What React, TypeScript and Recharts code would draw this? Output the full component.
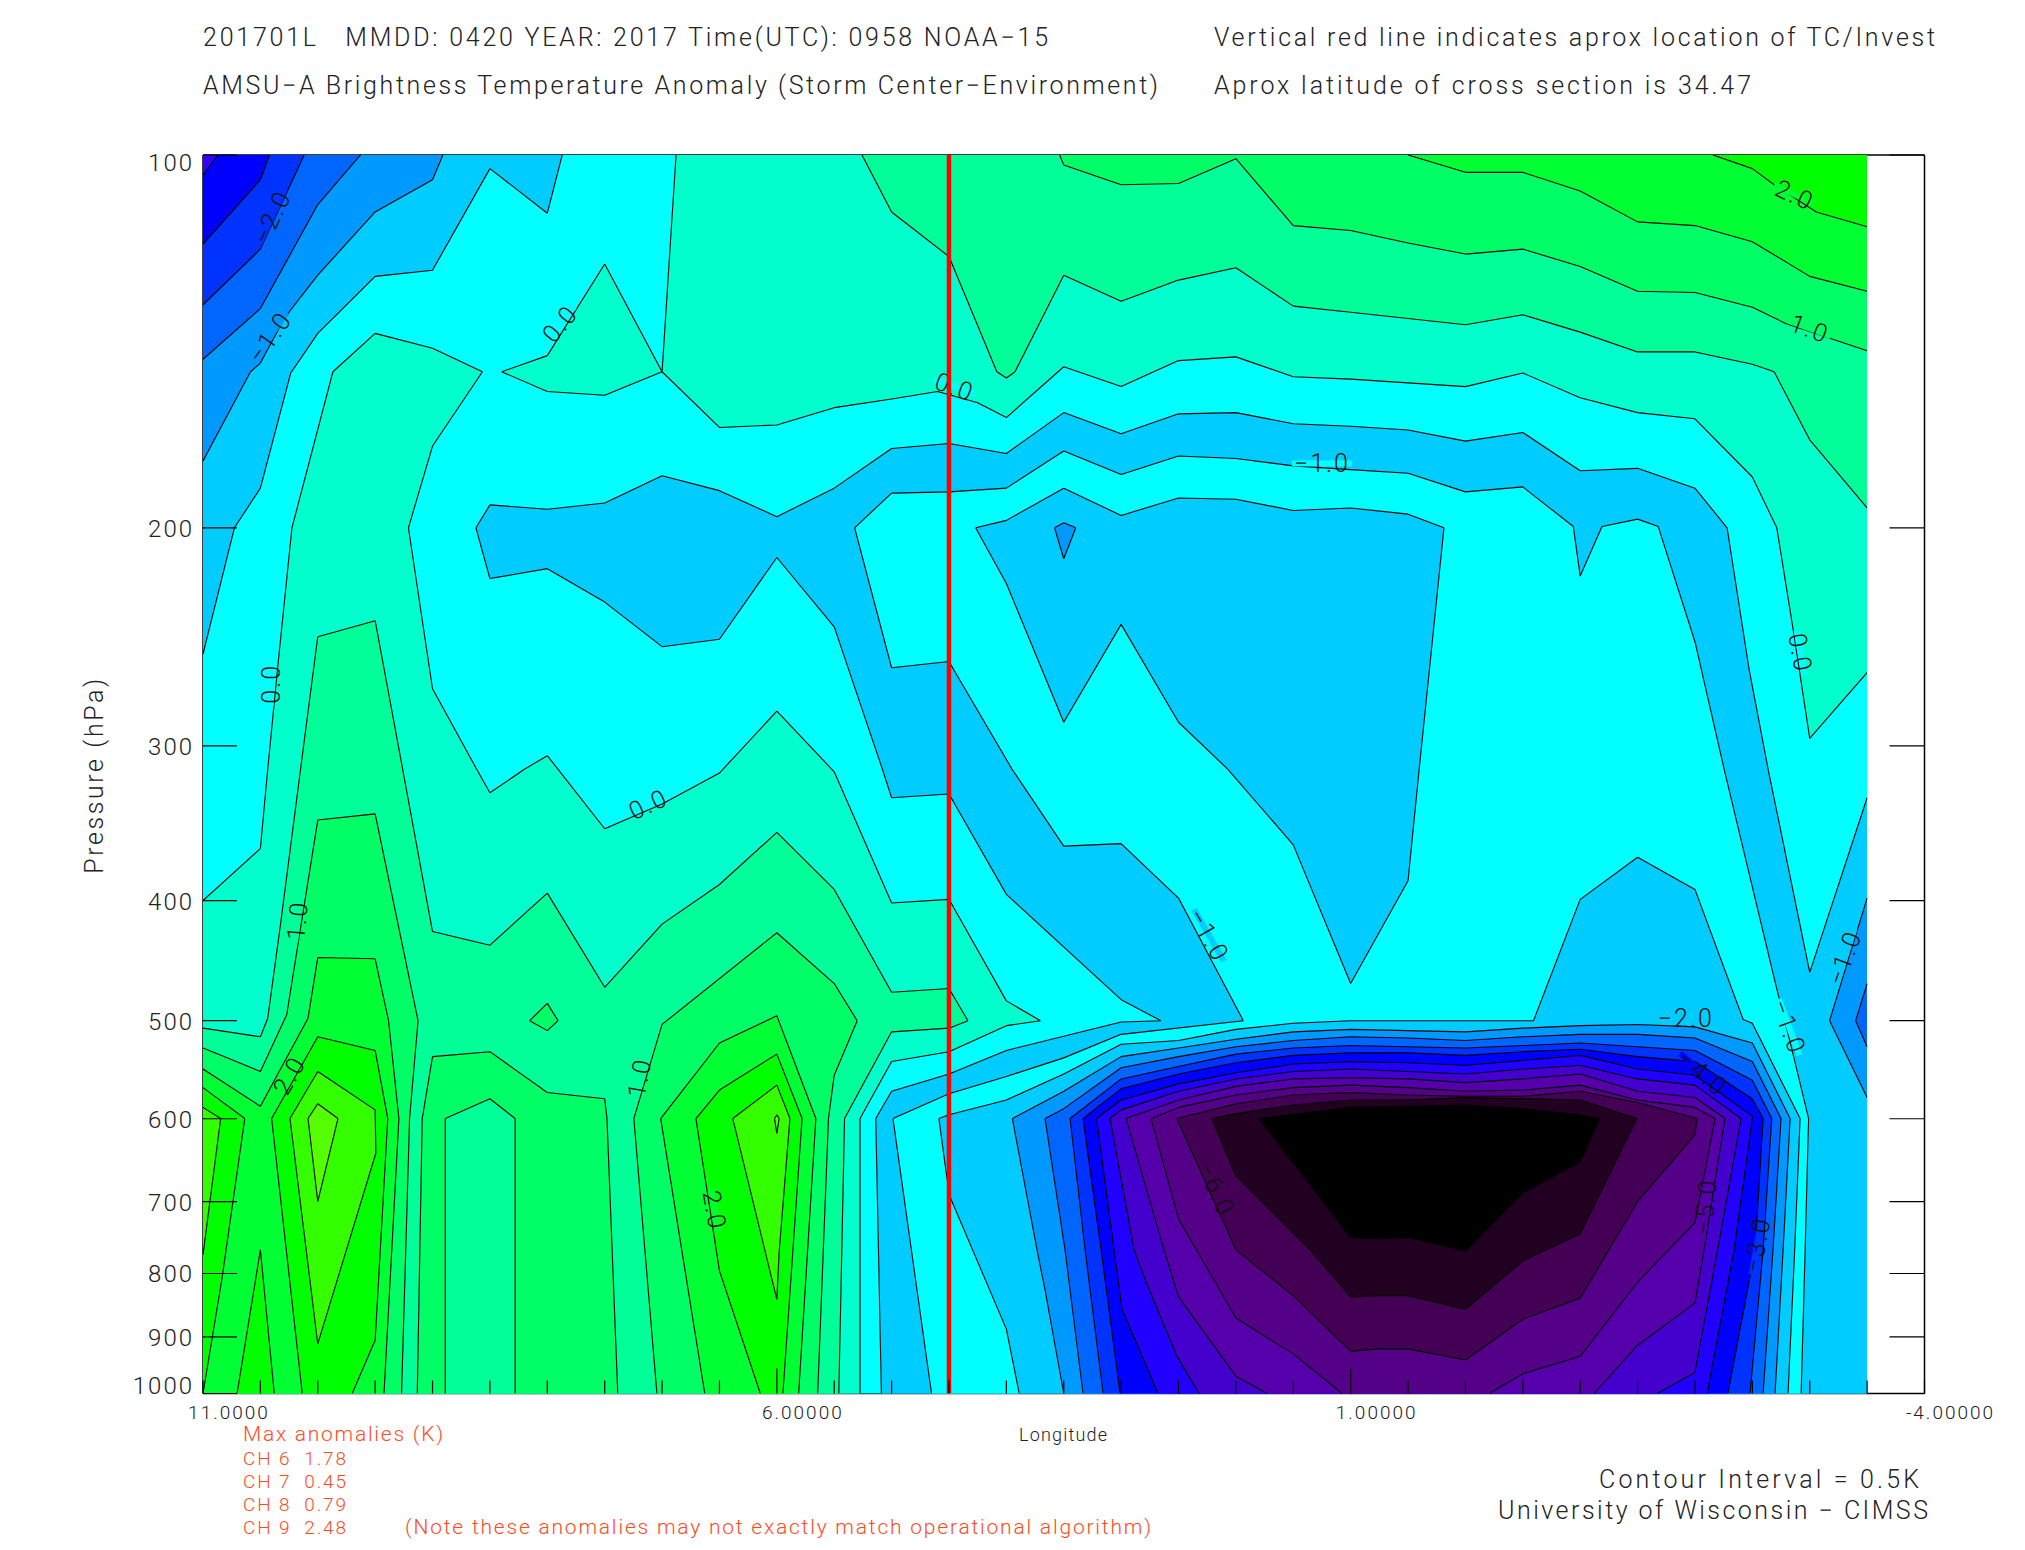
import { ScatterChart, Scatter, XAxis, YAxis } from "recharts";

type Vertex = [number, number];

// every vertex is [longitude, log10(pressure in hPa)]
const domainArea: Vertex[] = [[11, 2], [-3.5, 2], [-3.5, 3], [11, 3]];

const nwBlue1: Vertex[] = [[11, 2], [7.87, 2], [8, 2.047], [8.5, 2.011], [9, 2.093], [9.5, 2.098], [10, 2.144], [10.235, 2.176], [10.5, 2.269], [10.726, 2.301], [11, 2.403]];
const nwBlue2: Vertex[] = [[11, 2], [8.91, 2], [9, 2.02], [9.5, 2.046], [10, 2.097], [10.285, 2.131], [10.5, 2.168], [10.586, 2.175], [11, 2.247]];
const nwBlue3: Vertex[] = [[11, 2], [9.627, 2], [10, 2.04], [10.5, 2.124], [11, 2.165]];
const nwBlue4: Vertex[] = [[11, 2], [10.118, 2], [10.5, 2.076], [11, 2.121]];
const nwBlue5: Vertex[] = [[11, 2], [10.42, 2], [10.5, 2.02], [11, 2.072]];
const nwBlue6: Vertex[] = [[11, 2], [10.87, 2], [11, 2.016]];

const midTrough: Vertex[] = [[8.622, 2.301], [8.5, 2.2825], [8, 2.286], [7.5, 2.281], [7, 2.259], [6.5, 2.271], [6, 2.292], [5.5, 2.269], [5, 2.237], [4.5, 2.233], [4, 2.241], [3.5, 2.208], [3, 2.225], [2.5, 2.209], [2, 2.208], [1.5, 2.217], [1, 2.219], [0.5, 2.222], [0, 2.231], [-0.5, 2.224], [-1, 2.255], [-1.5, 2.253], [-2, 2.269], [-2.28, 2.301], [-2.473, 2.416], [-2.64, 2.497], [-3, 2.66], [-3.5, 2.519], [-3.5, 3], [5.089, 3], [5.138, 2.778], [5, 2.756], [4.5, 2.742], [4, 2.723], [3, 2.7], [2.654, 2.699], [3, 2.682], [4, 2.597], [4.5, 2.516], [5, 2.519], [5.08, 2.496], [5.5, 2.381], [6, 2.325], [6.5, 2.391], [7, 2.397], [7.5, 2.361], [8, 2.334], [8.5, 2.342]];
const cyanIsland: Vertex[] = [[5.322, 2.301], [5, 2.273], [4.5, 2.272], [4, 2.269], [3.5, 2.239], [3, 2.258], [2.5, 2.243], [2, 2.245], [1.5, 2.251], [1, 2.254], [0.5, 2.257], [0, 2.272], [-0.5, 2.268], [-0.94, 2.3], [-1, 2.34], [-1.19, 2.3], [-1.5, 2.294], [-1.68, 2.3], [-2, 2.393], [-2.257, 2.497], [-2.707, 2.671], [-2.86, 2.728], [-2.99, 2.778], [-2.96, 2.884], [-2.925, 3], [-2.811, 3], [-2.869, 2.884], [-2.916, 2.778], [-2.5, 2.701], [-2.42, 2.698], [-2, 2.593], [-1.5, 2.567], [-1, 2.601], [-0.593, 2.699], [1, 2.699], [1.5, 2.701], [2, 2.706], [2.5, 2.715], [3, 2.718], [3.5, 2.742], [4, 2.763], [4.5, 2.775], [4.588, 2.778], [4.521, 2.824], [4.488, 2.842], [4, 2.948], [3.888, 3], [4.652, 3], [4.988, 2.778], [4.5, 2.758], [4, 2.744], [3.5, 2.729], [3, 2.71], [1.935, 2.699], [2.5, 2.6], [3, 2.556], [3.5, 2.558], [3.95, 2.496], [4.5, 2.409], [5, 2.414]];
const innerTrough: Vertex[] = [[4.268, 2.301], [4, 2.295], [3.5, 2.269], [3, 2.291], [2.5, 2.277], [2, 2.278], [1.5, 2.287], [1, 2.285], [0.5, 2.29], [0.187, 2.301], [0.403, 2.496], [0.5, 2.586], [1, 2.669], [1.5, 2.557], [2.07, 2.496], [2.5, 2.458], [3, 2.379], [3.5, 2.458], [4, 2.346]];
const smallCold: Vertex[] = [[3.58, 2.301], [3.5, 2.297], [3.395, 2.301], [3.5, 2.326]];
const eastCold1: Vertex[] = [[-3.5, 2.6], [-3.173, 2.699], [-3.5, 2.761]];
const eastCold2: Vertex[] = [[-3.5, 2.669], [-3.4, 2.699], [-3.5, 2.72]];

const zeroLower: Vertex[] = [[11, 2.602], [10.5, 2.56], [10.436, 2.496], [10.345, 2.41], [10.225, 2.301], [9.868, 2.175], [9.5, 2.144], [9, 2.156], [8.565, 2.175], [9, 2.235], [9.21, 2.301], [9, 2.431], [8.615, 2.496], [8.5, 2.515], [8.2, 2.496], [8, 2.485], [7.906, 2.496], [7.5, 2.544], [7, 2.524], [6.5, 2.499], [6, 2.449], [5.5, 2.498], [5, 2.604], [4.5, 2.601], [4, 2.683], [3.703, 2.699], [4, 2.703], [4.5, 2.724], [5, 2.732], [5.275, 2.778], [5.275, 3], [11, 3]];
const zeroIsland: Vertex[] = [[8.398, 2.175], [8, 2.162], [7.5, 2.088], [7, 2.175], [7.5, 2.194], [8, 2.191]];
const zeroUpper: Vertex[] = [[6.878, 2], [7, 2.175], [6.5, 2.22], [6, 2.218], [5.5, 2.204], [5, 2.197], [4.6, 2.191], [4.25, 2.2], [4, 2.212], [3.5, 2.171], [3, 2.187], [2.5, 2.166], [2, 2.163], [1.5, 2.179], [1, 2.181], [0.5, 2.184], [0, 2.187], [-0.5, 2.176], [-1, 2.196], [-1.5, 2.208], [-2, 2.213], [-2.5, 2.26], [-2.713, 2.301], [-2.857, 2.384], [-3, 2.471], [-3.5, 2.418], [-3.5, 2]];

const halfLower: Vertex[] = [[11, 2.705], [10.5, 2.712], [10.436, 2.697], [10.32, 2.618], [10.15, 2.496], [10, 2.389], [9.5, 2.376], [9.26, 2.496], [9, 2.627], [8.5, 2.638], [8, 2.596], [7.5, 2.672], [7, 2.621], [6.5, 2.589], [6, 2.547], [5.5, 2.593], [5, 2.676], [4.5, 2.673], [4.335, 2.699], [4.5, 2.705], [5, 2.708], [5.41, 2.778], [5.46, 3], [11, 3]];
const halfUpper: Vertex[] = [[5.258, 2], [5, 2.046], [4.5, 2.082], [4.083, 2.175], [4, 2.18], [3.925, 2.175], [3.5, 2.097], [3, 2.118], [2.5, 2.101], [2, 2.091], [1.5, 2.122], [1, 2.127], [0.5, 2.132], [0, 2.137], [-0.5, 2.129], [-1, 2.143], [-1.5, 2.159], [-2, 2.159], [-2.5, 2.169], [-2.69, 2.175], [-3, 2.23], [-3.5, 2.285], [-3.5, 2]];

const oneWest: Vertex[] = [[11, 2.721], [10.5, 2.74], [10.27, 2.694], [10, 2.537], [9.5, 2.532], [9.126, 2.699], [9.2, 2.778], [9.27, 3], [11, 3]];
const oneCentre: Vertex[] = [[9.09, 2.778], [9, 2.728], [8.5, 2.724], [8, 2.757], [7.5, 2.762], [7.48, 2.778], [7.386, 3], [9.133, 3]];
const oneEast: Vertex[] = [[7.045, 3], [7.246, 2.778], [7, 2.702], [6, 2.628], [5.5, 2.669], [5.3, 2.699], [5.5, 2.743], [5.55, 2.778], [5.644, 3]];
const pillar: Vertex[] = [[8.889, 2.778], [8.5, 2.762], [8.28, 2.778], [8.28, 3], [8.889, 3]];
const diamond: Vertex[] = [[8.154, 2.699], [8, 2.685], [7.906, 2.699], [8, 2.707]];
const oneUpper: Vertex[] = [[3.536, 2], [3.5, 2.008], [3, 2.024], [2.5, 2.023], [2, 2.003], [1.5, 2.057], [1, 2.061], [0.5, 2.071], [0, 2.08], [-0.5, 2.076], [-1, 2.09], [-1.5, 2.11], [-2, 2.111], [-2.5, 2.123], [-2.79, 2.136], [-3.207, 2.149], [-3.5, 2.158], [-3.5, 2]];

const oneHalfWest: Vertex[] = [[11, 2.738], [10.5, 2.768], [10.085, 2.697], [10, 2.648], [9.5, 2.649], [9.383, 2.699], [9.293, 2.778], [9.423, 3], [11, 3]];
const oneHalfEast: Vertex[] = [[6.628, 3], [7.012, 2.778], [6.5, 2.717], [6, 2.695], [5.66, 2.778], [5.81, 3]];
const oneHalfUpper: Vertex[] = [[0.5, 2], [0, 2.014], [-0.5, 2.014], [-1, 2.029], [-1.5, 2.054], [-2, 2.057], [-2.5, 2.07], [-3, 2.098], [-3.5, 2.11], [-3.5, 2]];

const twoEdge: Vertex[] = [[11, 2.753], [10.636, 2.778], [10.836, 2.908], [11, 3]];
const twoApex: Vertex[] = [[10.703, 3], [10.5, 2.884], [10.379, 3]];
const twoWest: Vertex[] = [[10.402, 2.778], [10, 2.712], [9.5, 2.723], [9.39, 2.778], [9.5, 2.957], [9.7, 3], [10.135, 3]];
const twoEast: Vertex[] = [[6.705, 2.778], [6.5, 2.755], [6, 2.726], [5.78, 2.778], [5.947, 3], [6.144, 3], [6.5, 2.901]];
const twoUpper: Vertex[] = [[-2.157, 2], [-2.5, 2.011], [-2.69, 2.024], [-3.057, 2.046], [-3.5, 2.058], [-3.5, 2]];
const twoHalfEdge: Vertex[] = [[11, 2.769], [10.846, 2.778], [11, 2.888]];
const twoHalfWest: Vertex[] = [[10.242, 2.778], [10, 2.74], [9.5, 2.771], [9.494, 2.806], [10, 2.96]];
const twoHalfEast: Vertex[] = [[6.384, 2.778], [6, 2.751], [5.886, 2.778], [5.98, 2.886], [6, 2.924]];
const threeWest: Vertex[] = [[10.085, 2.778], [10, 2.766], [9.824, 2.778], [10, 2.845]];
const threeEast: Vertex[] = [[6.02, 2.778], [6, 2.775], [5.98, 2.778], [6, 2.79]];

const core2: Vertex[] = [[3.5, 3], [3.664, 2.916], [3.733, 2.884], [3.948, 2.778], [3.5, 2.756], [3, 2.728], [2.5, 2.721], [2, 2.714], [1.5, 2.708], [1, 2.706], [0.5, 2.707], [0, 2.708], [-0.5, 2.705], [-1, 2.703], [-1.5, 2.702], [-2, 2.704], [-2.5, 2.717], [-2.829, 2.778], [-2.768, 2.884], [-2.698, 3]];
const core3: Vertex[] = [[3.332, 3], [3.489, 2.884], [3.663, 2.778], [3.5, 2.77], [3, 2.737], [2.5, 2.728], [2, 2.72], [1.5, 2.715], [1, 2.712], [0.5, 2.713], [0, 2.715], [-0.5, 2.712], [-1, 2.71], [-1.5, 2.71], [-2, 2.713], [-2.5, 2.732], [-2.75, 2.778], [-2.68, 2.884], [-2.594, 3]];
const core4: Vertex[] = [[3.157, 3], [3.314, 2.884], [3.445, 2.778], [3, 2.746], [2.5, 2.736], [2, 2.726], [1.5, 2.721], [1, 2.719], [0.5, 2.72], [0, 2.721], [-0.5, 2.719], [-1, 2.717], [-1.5, 2.72], [-2, 2.723], [-2.5, 2.747], [-2.669, 2.778], [-2.594, 2.884], [-2.48, 3]];
const core5: Vertex[] = [[3.009, 3], [3.175, 2.884], [3.332, 2.778], [3, 2.754], [2.5, 2.742], [2, 2.733], [1.5, 2.727], [1, 2.725], [0.5, 2.725], [0, 2.727], [-0.5, 2.724], [-1, 2.722], [-1.5, 2.728], [-2, 2.732], [-2.5, 2.762], [-2.594, 2.778], [-2.524, 2.884], [-2.288, 3]];
const core6: Vertex[] = [[2.678, 3], [2.992, 2.932], [3.062, 2.884], [3.214, 2.778], [3, 2.763], [2.5, 2.75], [2, 2.741], [1.5, 2.734], [1, 2.732], [0.5, 2.733], [0, 2.735], [-0.5, 2.731], [-1, 2.727], [-1.5, 2.738], [-2, 2.743], [-2.5, 2.776], [-2.5, 2.778], [-2.341, 2.884], [-2.106, 3]];
const core7: Vertex[] = [[2.321, 3], [2.513, 2.97], [2.783, 2.91], [2.887, 2.884], [3.097, 2.778], [3, 2.771], [2.5, 2.756], [2, 2.746], [1.5, 2.74], [1, 2.738], [0.5, 2.74], [0, 2.742], [-0.5, 2.738], [-1, 2.735], [-1.5, 2.746], [-2, 2.751], [-2.402, 2.778], [-2.198, 2.884], [-2, 2.983], [-1.67, 3]];
const core8: Vertex[] = [[1.728, 3], [2, 2.986], [2.5, 2.922], [2.626, 2.884], [2.957, 2.778], [2.5, 2.763], [2, 2.752], [1.5, 2.746], [1, 2.745], [0.5, 2.746], [0, 2.749], [-0.5, 2.746], [-1, 2.742], [-1.5, 2.756], [-2, 2.761], [-2.262, 2.778], [-2.079, 2.884], [-2, 2.927], [-1.5, 2.961], [-1.121, 3]];
const core9: Vertex[] = [[1.075, 3], [1.5, 2.968], [2, 2.939], [2.5, 2.859], [2.739, 2.778], [2.5, 2.769], [2, 2.759], [1.5, 2.753], [1, 2.751], [0.5, 2.753], [0, 2.756], [-0.5, 2.755], [-1, 2.751], [-1.5, 2.763], [-2, 2.769], [-2.175, 2.778], [-2, 2.862], [-1.5, 2.91], [-1, 2.97], [-0.5, 2.984], [-0.206, 3]];
const core10: Vertex[] = [[2.515, 2.778], [2, 2.884], [1.5, 2.921], [1, 2.966], [0.76, 2.964], [0.5, 2.964], [0, 2.973], [-0.5, 2.94], [-1, 2.923], [-1.5, 2.845], [-2, 2.791], [-2.018, 2.778], [-1.5, 2.765], [-1, 2.756], [-0.5, 2.76], [0, 2.76], [0.5, 2.759], [1, 2.757], [1.5, 2.759], [2, 2.766]];
const core11: Vertex[] = [[2.21, 2.778], [2, 2.824], [1.354, 2.884], [1, 2.922], [0.76, 2.921], [0.5, 2.921], [0, 2.932], [-0.5, 2.893], [-1, 2.871], [-1.493, 2.778], [-1, 2.763], [-0.5, 2.762], [0, 2.761], [0.5, 2.763], [1, 2.763], [1.5, 2.767], [2, 2.774]];
const core12: Vertex[] = [[1.798, 2.778], [1, 2.874], [0.76, 2.875], [0.5, 2.874], [0, 2.885], [-0.5, 2.838], [-1, 2.813], [-1.17, 2.778], [-1, 2.775], [-0.5, 2.77], [0, 2.767], [1, 2.769]];

// painter's order, the way the contour fill lays them down
const bands: [Vertex[], string][] = [
  [domainArea, "#00ffff"],
  [nwBlue1, "#00ccff"], [nwBlue2, "#0099ff"], [nwBlue3, "#0066ff"], [nwBlue4, "#0033ff"], [nwBlue5, "#0000ff"], [nwBlue6, "#3300ff"],
  [midTrough, "#00ccff"], [cyanIsland, "#00ffff"], [innerTrough, "#00ccff"], [smallCold, "#0099ff"], [eastCold1, "#0099ff"], [eastCold2, "#0066ff"],
  [zeroLower, "#00ffcc"], [zeroIsland, "#00ffcc"], [zeroUpper, "#00ffcc"],
  [halfLower, "#00ff99"], [halfUpper, "#00ff99"],
  [oneWest, "#00ff66"], [oneCentre, "#00ff66"], [oneEast, "#00ff66"], [pillar, "#00ff99"], [diamond, "#00ff66"], [oneUpper, "#00ff66"],
  [oneHalfWest, "#00ff33"], [oneHalfEast, "#00ff33"], [oneHalfUpper, "#00ff33"],
  [twoEdge, "#00ff00"], [twoApex, "#00ff00"], [twoWest, "#00ff00"], [twoEast, "#00ff00"], [twoUpper, "#00ff00"],
  [twoHalfEdge, "#33ff00"], [twoHalfWest, "#33ff00"], [twoHalfEast, "#33ff00"], [threeWest, "#55ff00"], [threeEast, "#55ff00"],
  [core2, "#0099ff"], [core3, "#0066ff"], [core4, "#0033ff"], [core5, "#0000ff"], [core6, "#2200ff"], [core7, "#4400cc"],
  [core8, "#5500aa"], [core9, "#550088"], [core10, "#440055"], [core11, "#220022"], [core12, "#000000"],
];

const contourLabels = [
  { text: "−2.0", lon: 10.4, logP: 2.05, angle: -65, bg: "#0033ff" },
  { text: "−1.0", lon: 10.42, logP: 2.147, angle: -55, bg: "#0099ff" },
  { text: "0.0", lon: 10.41, logP: 2.427, angle: -90, bg: "#00ffff" },
  { text: "0.0", lon: 7.89, logP: 2.136, angle: -50, bg: "#00ffff" },
  { text: "0.0", lon: 7.12, logP: 2.524, angle: -25, bg: "#00ffff" },
  { text: "1.0", lon: 10.18, logP: 2.618, angle: -85, bg: "#00ff99" },
  { text: "2.0", lon: 10.25, logP: 2.743, angle: -60, bg: "#00ff33" },
  { text: "1.0", lon: 7.2, logP: 2.745, angle: -80, bg: "#00ff99" },
  { text: "2.0", lon: 6.54, logP: 2.852, angle: 80, bg: "#00ff33" },
  { text: "0.0", lon: 4.45, logP: 2.187, angle: 20, bg: "#00ffff" },
  { text: "−1.0", lon: 1.25, logP: 2.249, angle: 0, bg: "#00ffff" },
  { text: "−1.0", lon: 2.235, logP: 2.63, angle: 60, bg: "#00ccff" },
  { text: "−6.0", lon: 2.17, logP: 2.835, angle: 65, bg: "#440055" },
  { text: "2.0", lon: -2.87, logP: 2.032, angle: 25, bg: "#00ff33" },
  { text: "1.0", lon: -3.0, logP: 2.14, angle: 20, bg: "#00ff66" },
  { text: "0.0", lon: -2.92, logP: 2.402, angle: 80, bg: "#00ffff" },
  { text: "−1.0", lon: -3.3, logP: 2.648, angle: -70, bg: "#00ccff" },
  { text: "−1.0", lon: -2.82, logP: 2.704, angle: 70, bg: "#00ffff" },
  { text: "−2.0", lon: -1.92, logP: 2.697, angle: 0, bg: "#00ccff" },
  { text: "−4.0", lon: -2.07, logP: 2.741, angle: 40, bg: "#0000ff" },
  { text: "−5.0", lon: -2.09, logP: 2.849, angle: -85, bg: "#5500aa" },
  { text: "−3.0", lon: -2.54, logP: 2.88, angle: -80, bg: "#0033ff" },
];

const pressureLabels = [100, 200, 300, 400, 500, 600, 700, 800, 900, 1000];
const lonTicks = [11, 10.5, 10, 9.5, 9, 8.5, 8, 7.5, 7, 6.5, 6, 5.5, 5, 4.5, 4, 3.5, 3, 2.5, 2, 1.5, 1, 0.5, 0, -0.5, -1, -1.5, -2, -2.5, -3, -3.5, -4];
const lonMajor: Record<string, string> = { "11": "11.0000", "6": "6.00000", "1": "1.00000", "-4": "-4.00000" };
const stormTrack = [{ lon: 4.5, logP: 2 }, { lon: 4.5, logP: 3 }];
const logTicks = pressureLabels.map((p) => Math.log10(p));

const FONT = "Roboto, 'Liberation Sans', Arial, sans-serif";
const RED_TEXT = "#ff4a1e";
const INK = "#222";

const onFrame = (a: Vertex, b: Vertex) =>
  (a[0] === b[0] && (a[0] === -3.5 || a[0] === 11)) || (a[1] === b[1] && (a[1] === 2 || a[1] === 3));

const ContourShape = ({ points, vertices, color }: any) => {
  if (!points || !points.length) return null;
  const fillPath = points.map((p: any, i: number) => `${i ? "L" : "M"}${p.x} ${p.y}`).join("") + "Z";
  const edges = points
    .map((p: any, i: number) => {
      const j = (i + 1) % points.length;
      if (onFrame(vertices[i], vertices[j])) return "";
      return `M${p.x} ${p.y}L${points[j].x} ${points[j].y}`;
    })
    .join("");
  return (
    <g>
      <path d={fillPath} fill={color} stroke="none" shapeRendering="crispEdges" />
      <path d={edges} fill="none" stroke="#000" strokeWidth={1.1} />
    </g>
  );
};

const StormLine = ({ points }: any) => {
  if (!points || points.length < 2) return null;
  return <line x1={points[0].x} y1={points[0].y} x2={points[1].x} y2={points[1].y} stroke="#ff0000" strokeWidth={4.5} />;
};

const ContourLabel = ({ cx, cy, payload }: any) => {
  const w = payload.text.length * 15;
  return (
    <g transform={`rotate(${payload.angle} ${cx} ${cy})`}>
      <rect x={cx - w / 2} y={cy - 3} width={w} height={6} fill={payload.bg} />
      <text x={cx} y={cy + 9} textAnchor="middle" fontFamily={FONT} fontWeight={300} fontSize={25} fill="#111" letterSpacing={2}>
        {payload.text}
      </text>
    </g>
  );
};

const PressureTick = ({ x, y, payload }: any) => {
  const value = Math.round(10 ** payload.value);
  const nudge = value === 100 ? 7 : value === 1000 ? -9 : 0;
  return (
    <g>
      <line x1={x} x2={x + 34} y1={y} y2={y} stroke="#000" strokeWidth={1.2} />
      <text x={x - 9} y={y + 9 + nudge} textAnchor="end" fontFamily={FONT} fontWeight={300} fontSize={24} letterSpacing={2} fill={INK}>
        {value}
      </text>
    </g>
  );
};

const RightTick = ({ x, y }: any) => <line x1={x - 35} x2={x} y1={y} y2={y} stroke="#000" strokeWidth={1.2} />;

const BottomTick = ({ x, y, payload }: any) => {
  const label = lonMajor[String(payload.value)];
  const long = payload.value === 6 || payload.value === 1;
  return (
    <g>
      <line x1={x} x2={x} y1={y} y2={y - (long ? 25 : 13)} stroke="#000" strokeWidth={1.2} />
      {label && (
        <text x={x + 26} y={y + 25} textAnchor="middle" fontFamily={FONT} fontWeight={300} fontSize={19} letterSpacing={2} fill={INK}>
          {label}
        </text>
      )}
    </g>
  );
};

const TopTick = ({ x, y, payload }: any) => {
  const long = payload.value === 6 || payload.value === 1;
  return <line x1={x} x2={x} y1={y} y2={y + (long ? 25 : 12)} stroke="#000" strokeWidth={1.2} />;
};

const captions = [
  { text: "201701L   MMDD: 0420 YEAR: 2017 Time(UTC): 0958 NOAA−15", x: 203, y: 46, w: 845, size: 25, color: INK },
  { text: "AMSU−A Brightness Temperature Anomaly (Storm Center−Environment)", x: 203, y: 94, w: 955, size: 25, color: INK },
  { text: "Vertical red line indicates aprox location of TC/Invest", x: 1214, y: 46, w: 721, size: 25, color: INK },
  { text: "Aprox latitude of cross section is 34.47", x: 1214, y: 94, w: 537, size: 25, color: INK },
  { text: "Longitude", x: 1019, y: 1441, w: 88, size: 18, color: INK },
  { text: "Max anomalies (K)", x: 243, y: 1441, w: 200, size: 21, color: RED_TEXT },
  { text: "CH 6  1.78", x: 243, y: 1465, w: 103, size: 19, color: RED_TEXT },
  { text: "CH 7  0.45", x: 243, y: 1488, w: 103, size: 19, color: RED_TEXT },
  { text: "CH 8  0.79", x: 243, y: 1511, w: 103, size: 19, color: RED_TEXT },
  { text: "CH 9  2.48", x: 243, y: 1534, w: 103, size: 19, color: RED_TEXT },
  { text: "(Note these anomalies may not exactly match operational algorithm)", x: 405, y: 1534, w: 746, size: 21, color: RED_TEXT },
  { text: "Contour Interval = 0.5K", x: 1599, y: 1488, w: 320, size: 25, color: INK },
  { text: "University of Wisconsin − CIMSS", x: 1498, y: 1519, w: 430, size: 25, color: INK },
];

export default function App() {
  return (
    <div style={{ position: "absolute", left: 0, top: 0, width: 2025, height: 1550, background: "#fff" }}>
      <ScatterChart width={2025} height={1550} margin={{ top: 125, right: 40.5, bottom: 126.5, left: 143 }}>
        {bands.map(([vertices, color], i) => (
          <Scatter
            key={i}
            data={vertices.map(([lon, logP]) => ({ lon, logP }))}
            line={<ContourShape vertices={vertices} color={color} />}
            shape={() => null}
            isAnimationActive={false}
          />
        ))}
        <Scatter data={contourLabels} shape={<ContourLabel />} isAnimationActive={false} />
        <Scatter data={stormTrack} line={<StormLine />} shape={() => null} isAnimationActive={false} />
        <XAxis
          type="number"
          dataKey="lon"
          domain={[-4, 11]}
          reversed
          allowDataOverflow
          ticks={lonTicks}
          interval={0}
          height={30}
          tickLine={false}
          tickSize={0}
          tickMargin={0}
          axisLine={{ stroke: "#000", strokeWidth: 1.5 }}
          tick={<BottomTick />}
        />
        <XAxis
          xAxisId="top"
          orientation="top"
          type="number"
          domain={[-4, 11]}
          reversed
          allowDataOverflow
          ticks={lonTicks}
          interval={0}
          height={30}
          tickLine={false}
          tickSize={0}
          tickMargin={0}
          axisLine={{ stroke: "#000", strokeWidth: 1.5 }}
          tick={<TopTick />}
        />
        <YAxis
          type="number"
          dataKey="logP"
          domain={[2, 3]}
          reversed
          allowDataOverflow
          ticks={logTicks}
          interval={0}
          width={60}
          tickLine={false}
          tickSize={0}
          tickMargin={0}
          axisLine={{ stroke: "#000", strokeWidth: 1.5 }}
          tick={<PressureTick />}
        />
        <YAxis
          yAxisId="right"
          orientation="right"
          type="number"
          domain={[2, 3]}
          reversed
          allowDataOverflow
          ticks={logTicks}
          interval={0}
          width={60}
          tickLine={false}
          tickSize={0}
          tickMargin={0}
          axisLine={{ stroke: "#000", strokeWidth: 1.5 }}
          tick={<RightTick />}
        />
      </ScatterChart>
      <svg width={2025} height={1550} style={{ position: "absolute", left: 0, top: 0, pointerEvents: "none" }}>
        {captions.map((c) => (
          <text
            key={c.text}
            x={c.x}
            y={c.y}
            fontFamily={FONT}
            fontWeight={300}
            fontSize={c.size}
            fill={c.color}
            textLength={c.w}
            lengthAdjust="spacing"
            style={{ whiteSpace: "pre" }}
          >
            {c.text}
          </text>
        ))}
        <text
          transform="translate(103 775) rotate(-90)"
          textAnchor="middle"
          fontFamily={FONT}
          fontWeight={300}
          fontSize={25}
          fill={INK}
          letterSpacing={2.6}
        >
          Pressure (hPa)
        </text>
      </svg>
    </div>
  );
}
